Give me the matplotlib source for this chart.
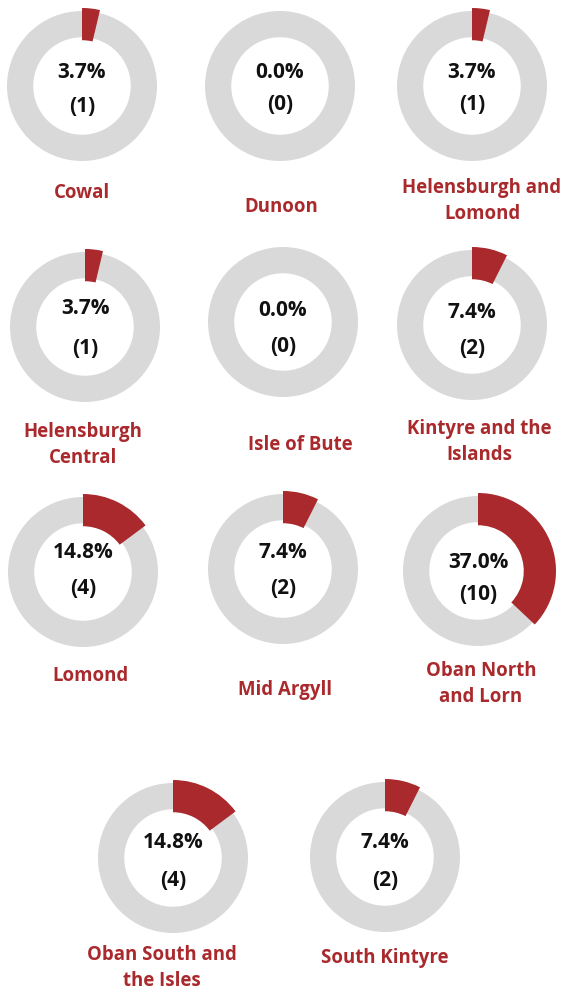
import matplotlib.pyplot as plt

# data
areas = ["Cowal", "Dunoon", "Helensburgh and\nLomond",
         "Helensburgh\nCentral", "Isle of Bute", "Kintyre and the\nIslands",
         "Lomond", "Mid Argyll", "Oban North\nand Lorn",
         "Oban South and\nthe Isles", "South Kintyre"]
counts = [1, 0, 1, 1, 0, 2, 4, 2, 10, 4, 2]
total = sum(counts)

# layout in pixels (donut centre, text rows, label position)
centres = [(82, 86), (280, 86), (472, 86),
           (85, 327), (283, 322), (472, 325),
           (83, 572), (283, 569), (478, 571),
           (173, 858), (385, 857)]
pct_y = [72, 72, 72, 308, 311, 313, 552, 553, 562, 843, 842]
cnt_y = [106, 104, 104, 348, 347, 348, 588, 588, 594, 880, 880]
label_xy = [(82, 193), (281, 207), (482, 201),
            (83, 445), (300, 445), (479, 442),
            (90, 676), (285, 690), (481, 684),
            (162, 968), (385, 958)]

RED = "#A9292C"
GREY = "#D9D9D9"
W, H = 564, 992
R = 75  # outer radius in px
BOX = 180

plt.rcParams['font.family'] = ['Open Sans', 'DejaVu Sans']
fig = plt.figure(figsize=(W / 100, H / 100), dpi=100)

for i, name in enumerate(areas):
    cx, cy = centres[i]
    ax = fig.add_axes([(cx - BOX / 2) / W, 1 - (cy + BOX / 2) / H, BOX / W, BOX / H])
    ax.pie([1], radius=1.0, colors=[GREY], startangle=90,
           wedgeprops=dict(width=0.35, edgecolor='none'))
    if counts[i] > 0:
        ax.pie([counts[i], total - counts[i]], radius=1.04, colors=[RED, 'none'],
               startangle=90, counterclock=False,
               wedgeprops=dict(width=0.43, edgecolor='none'))
    lim = BOX / 2 / R
    ax.set_xlim(-lim, lim)
    ax.set_ylim(-lim, lim)
    ax.set_aspect('equal')
    ax.axis('off')

    pct = counts[i] / total * 100
    fig.text(cx / W, 1 - pct_y[i] / H, f"{pct:.1f}%", ha='center', va='center',
             fontsize=15, fontweight='bold', color='#111111')
    fig.text(cx / W, 1 - cnt_y[i] / H, f"({counts[i]})", ha='center', va='center',
             fontsize=15, fontweight='bold', color='#111111')
    lx, ly = label_xy[i]
    fig.text(lx / W, 1 - ly / H, name, ha='center', va='center', fontsize=13.4,
             fontweight='bold', color=RED, linespacing=1.42)

fig.savefig("out.png", dpi=100)
